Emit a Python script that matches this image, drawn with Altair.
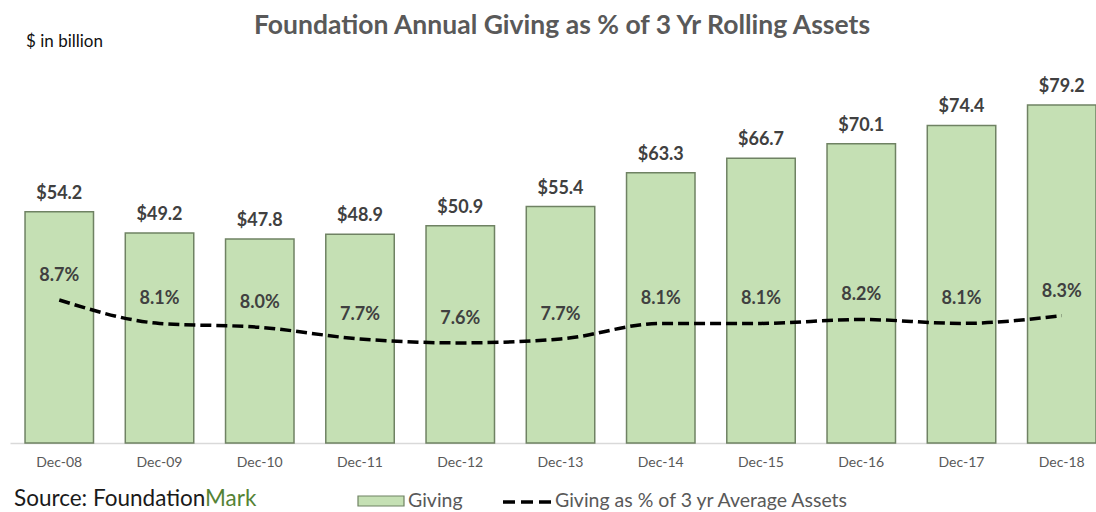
import altair as alt
import pandas as pd

years = ["Dec-08", "Dec-09", "Dec-10", "Dec-11", "Dec-12", "Dec-13",
         "Dec-14", "Dec-15", "Dec-16", "Dec-17", "Dec-18"]
giving = [54.2, 49.2, 47.8, 48.9, 50.9, 55.4, 63.3, 66.7, 70.1, 74.4, 79.2]
pct = [8.7, 8.1, 8.0, 7.7, 7.6, 7.7, 8.1, 8.1, 8.2, 8.1, 8.3]

title_text = "Foundation Annual Giving as % of 3 Yr Rolling Assets"
unit_text = "$ in billion"
source_a = "Source: Foundation"
source_b = "Mark"
legend_bar = "Giving"
legend_line = "Giving as % of 3 yr Average Assets"

df = pd.DataFrame({"year": years, "giving": giving, "pct": pct})
one = pd.DataFrame({"k": [0]})

FONT = "Lato"
W, H = 1086, 383
BAR_FILL = "#C5E0B4"
BAR_STROKE = "#6F8263"
TXT = "#404040"
GRAY = "#595959"

xenc = alt.X("year:N", sort=years,
             scale=alt.Scale(paddingInner=0.317, paddingOuter=0.075, align=1, round=False),
             axis=alt.Axis(title=None, labelAngle=0, ticks=False, labelPadding=12,
                           labelFontSize=14, labelColor=GRAY, labelFont=FONT,
                           domainColor="#D9D9D9", domainWidth=1.5))

ybar = alt.Y("giving:Q", scale=alt.Scale(domain=[0, 89.74], nice=False, zero=True), axis=None)
yline = alt.Y("pct:Q", scale=alt.Scale(domain=[5.033, 14.854], nice=False, zero=False), axis=None)

base = alt.Chart(df)

bars = base.mark_bar(fill=BAR_FILL, stroke=BAR_STROKE, strokeWidth=1.5).encode(x=xenc, y=ybar)
bar_labels = base.transform_calculate(lab="'$' + format(datum.giving, '.1f')").mark_text(
    font=FONT, fontSize=18, fontWeight="bold", color=TXT, baseline="middle", dy=-18
).encode(x=xenc, y=ybar, text="lab:N")

bar_layer = alt.layer(bars, bar_labels)

line = base.mark_line(color="black", strokeWidth=3.5, strokeDash=[11, 5],
                      interpolate="monotone").encode(x=xenc, y=yline)
pct_labels = base.transform_calculate(lab="format(datum.pct, '.1f') + '%'").mark_text(
    font=FONT, fontSize=18, fontWeight="bold", color=TXT, baseline="middle", dy=-24
).encode(x=xenc, y=yline, text="lab:N")

line_layer = alt.layer(line, pct_labels)

oc = alt.Chart(one)
title = oc.mark_text(font=FONT, fontSize=26.5, fontWeight="bold", color=GRAY,
                     align="center", baseline="alphabetic", text=title_text).encode(
    x=alt.value(552), y=alt.value(-26))
unit = oc.mark_text(font=FONT, fontSize=17, color="#111111", align="left",
                    baseline="alphabetic", text=unit_text).encode(
    x=alt.value(16), y=alt.value(-13))
src_a = oc.mark_text(font=FONT, fontSize=22.5, color="#1A1A1A", align="left",
                     baseline="alphabetic", text=source_a).encode(
    x=alt.value(4), y=alt.value(446))
src_b = oc.mark_text(font=FONT, fontSize=22.5, color="#548235", align="left",
                     baseline="alphabetic", text=source_b).encode(
    x=alt.value(195), y=alt.value(446))
leg_rect = oc.mark_rect(fill=BAR_FILL, stroke=BAR_STROKE, strokeWidth=1.2).encode(
    x=alt.value(348), x2=alt.value(394), y=alt.value(436), y2=alt.value(446))
leg_t1 = oc.mark_text(font=FONT, fontSize=19.5, color=GRAY, align="left",
                      baseline="alphabetic", text=legend_bar).encode(
    x=alt.value(398), y=alt.value(447))
leg_rule = oc.mark_rule(color="black", strokeWidth=3.5, strokeDash=[12, 6]).encode(
    x=alt.value(493), x2=alt.value(541), y=alt.value(442))
leg_t2 = oc.mark_text(font=FONT, fontSize=19.5, color=GRAY, align="left",
                      baseline="alphabetic", text=legend_line).encode(
    x=alt.value(545), y=alt.value(447))

main = alt.layer(bar_layer, line_layer).resolve_scale(y="independent")

chart = alt.layer(main, title, unit, src_a, src_b, leg_rect, leg_t1, leg_rule, leg_t2).properties(
    width=W, height=H,
    autosize=alt.AutoSizeParams(type="none"),
    padding={"left": 10, "top": 60, "right": 0, "bottom": 69},
    background="white",
).configure_view(stroke=None)

chart.save("out.html", embed_options={"renderer": "svg", "actions": False})
